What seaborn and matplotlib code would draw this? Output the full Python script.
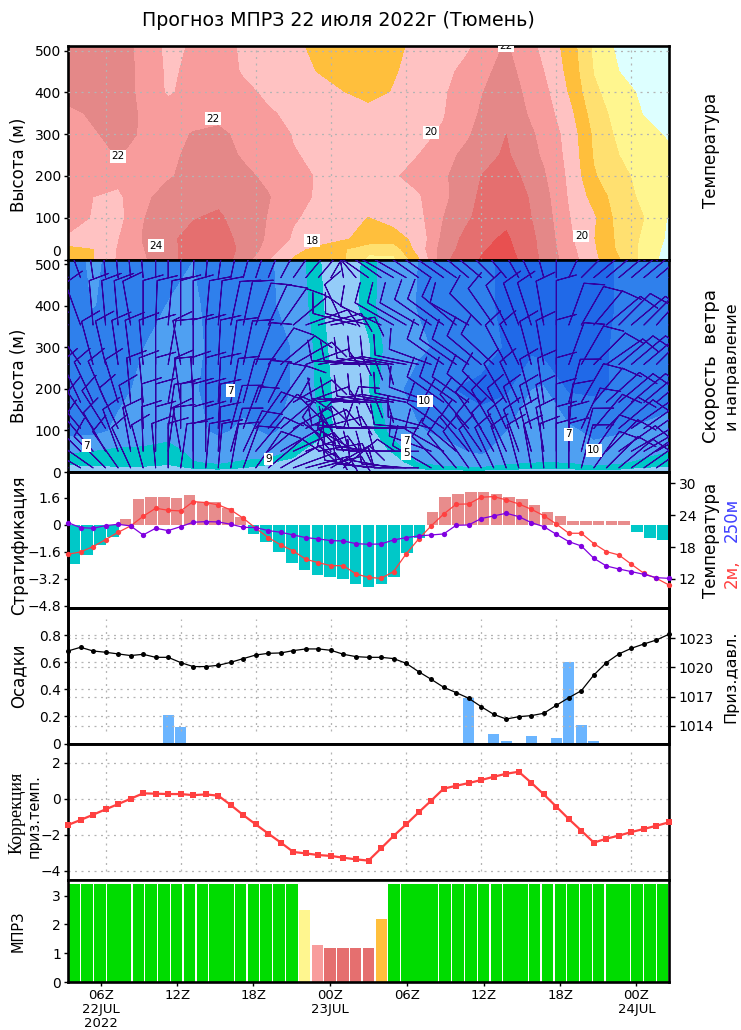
import numpy as np
import matplotlib
matplotlib.use("Agg")
import matplotlib.pyplot as plt
import seaborn as sns

sns.set_style("white")
plt.rcParams["font.family"] = ["DejaVu Sans"]
plt.rcParams["axes.unicode_minus"] = True
plt.rcParams["text.color"] = "black"
plt.rcParams["xtick.color"] = "black"
plt.rcParams["ytick.color"] = "black"

W, H = 741, 1030
hours = np.arange(49)
grid_hours = [3, 9, 15, 21, 27, 33, 39, 45]

# ---- temperature cross-section (deg C)
temp_cols = [0,2,4,6,8,10,12,14,16,18,20,22,24,26,28,30,32,33,35,37,38,40,42,44,46,48]
temp_heights = [0,25,50,100,150,200,250,300,350,400,450,511]
t_0   = [17,17.9,20.2,21.7,23.4,24.8,25.3,23,20.1,17.7,16.8,16.2,13.6,13.5,17.5,23.5,25.4,26.1,27,24.8,23.5,21,18.4,16.1,13.3,11]
t_25  = [17,17.9,20.1,21.9,23.5,24.7,25.2,23.5,21.2,18.6,17.3,16.2,14.5,14.8,18.8,23,25,25.8,26.6,24.5,23.4,20.7,18.2,15.6,13.4,11.3]
t_50  = [19.8,19.3,19.9,22.1,23.7,24.5,25,23.3,21.7,19.7,19,18.1,17.6,17,18.6,22.6,24.8,25.5,26.3,24.4,23.3,20.4,18,15.5,13.6,11.6]
t_100 = [20.6,19.9,19.3,21.9,23.2,23.9,24.3,23.1,21.9,20.2,19.4,18.7,17.9,18.7,19.4,22,23.8,24.6,25.5,24,23,20.1,18.2,15.2,14,11.8]
t_150 = [20.3,20,19.6,21.6,22.7,23.2,23.5,23,22.1,20.8,19.7,19.4,19.3,19.4,19.8,21.5,23.5,24.3,25.3,23.8,22.7,19.8,17.2,15,13.5,12.7]
t_200 = [20.5,20.7,20.6,20.4,21.8,22.6,23,22.4,21.6,20.7,19.8,19.6,19.5,19.8,20.6,21.7,23.2,24,25,23.2,22.2,19.6,16.2,14.5,13.4,12.6]
t_250 = [20.4,21.3,22.1,21.4,21.6,22.4,22.7,21.8,21,20.1,19.7,19.5,19.3,19.5,20,21.3,22.6,23.2,24.3,22.5,21.7,19.4,15.8,14,13,12.3]
t_300 = [20.6,21.8,22.6,21.8,21.4,22.1,22.4,21.5,20.8,19.9,19.5,19.3,19.1,19.2,19.6,20.2,21.8,22.8,24,22.2,21.5,19.2,15.6,13.5,12.5,11.8]
t_350 = [21.5,22.3,23,21.7,21.1,21.3,21.4,21,20.2,19.6,19.2,18.9,18.6,18.9,19.4,19.9,21.4,22.2,23.3,21.7,21,18.6,15,13.2,11.9,11.2]
t_400 = [22.8,22.5,22.8,21.6,19.7,20.8,21.2,20.5,19.6,19,18.6,18,17.3,18.1,19,19.8,21,21.9,23,21.4,20.6,17.8,14.4,12.8,11.6,11]
t_450 = [23,23,22.8,21.6,19.6,20.5,21,19.8,19.2,18.6,17.9,17.3,17,17.8,18.7,19.5,20.6,21.4,22.8,20.8,20,17.4,13.9,12,11,10.5]
t_500 = [23,23,23,21.3,19.5,20.2,21,19.6,19,18.3,17.6,17,16.7,17.5,18.5,19.3,19.8,20.8,22.2,20.4,19.5,17.1,13.6,11.5,11,10.5]
temp_levels = [8,12,14,16,18,20,22,24,26,28]
temp_colors = ["#DDFFFF","#FFF68F","#FFE070","#FFBF3C","#FFC2C2","#F89C9C","#E48888","#E56F6F","#E85050"]
temp_labels = [("22",3.97,247),("22",11.55,337),("24",7,33),("18",19.5,45),("20",29,304),("22",35,511),("20",41,56)]

# ---- wind speed cross-section (m/s)
wind_heights = [0,25,50,100,200,300,400,512]
w_0   = [4.5]*26
w_25  = [5.2,5.3,5.4,5.4,5.2,5.9,6.3,5.7,5.2,4.6,3.5,3.3,3.6,4.2,6.1,6.8,7.2,7.3,6.4,6.1,6,6.1,6.8,6.3,5.6,5.4]
w_50  = [6.2,5.9,5.6,5.5,5.2,6.4,6.8,7.2,7.2,5.6,3.8,3.5,4,5.2,6.7,7.4,8,8.2,7.2,6.6,6.5,6.6,7.3,7,6.6,6]
w_100 = [8.6,8.5,7.6,7.4,6.8,7.5,8.3,7.6,8.2,7.6,6,4.2,4.5,6.5,7.8,8.4,9.2,9.5,8,7.2,7.1,7.5,8.5,8.2,7.6,7]
w_200 = [9,8.9,8.4,7.6,7.2,7.8,8.6,8.8,8.6,7.9,5.6,4.4,4.9,7.4,8.8,9.8,10.2,10.3,10.3,8,7.7,10.2,10.3,9.8,9.4,9.2]
w_300 = [9,9,9,8,7.4,7.5,8.6,8.8,8.6,7.9,5.4,4.3,4.8,6.8,7.6,8.4,9,9.4,10.1,10.5,10.7,10.7,10.3,9.8,9.5,9.3]
w_400 = [8.8,7.9,8.6,8.6,7.9,7.8,8.4,8.6,8.4,7.1,5.2,4.2,5.5,7,8.1,8.8,9.2,9.6,10.3,10.7,10.8,10.8,10.4,9.9,9.5,9.3]
w_500 = [9,7.5,8.8,9,8.6,8,9,9,8.3,6.8,5.1,4,5.4,7,8,8.8,9.2,9.6,10.3,10.6,10.7,10.7,10.4,9.9,9.5,9.3]
wind_levels = [0,5,6,8,10,14]
wind_colors = ["#94CCF8","#00C8C8","#4FA0F2","#2F80EC","#2069E8"]
wind_labels = [("7",1.47,63),("9",16,31),("7",13,196),("10",28.5,171),("7",27,75),("5",27,45),("7",40,91),("10",42,52)]

# ---- wind barbs: direction the wind comes from (deg), one list per level
barb_heights = [10,50,105,168,259,354,468]
barb_speed = [10,10,10,10,10,10,10]
d_468 = [340,340,352,355,355,355,355,0,0,0,2,5,8,12,15,18,22,28,35,40,40,30,350,320,305,305,300,300,305,305,305,305,310,310,315,320,330,335,345,0,25,45,50,50,50,50,50,50,50]
d_354 = [335,340,355,355,355,350,0,2,5,0,0,5,5,12,12,20,25,35,50,70,75,80,335,285,285,295,300,300,300,305,306,310,300,315,325,333,340,342,350,0,20,30,40,50,45,50,45,42,42]
d_259 = [320,325,345,347,352,353,355,0,10,350,0,0,3,8,12,20,35,50,60,70,80,85,90,275,275,278,280,280,282,290,305,305,305,310,313,332,335,345,350,0,20,30,45,55,50,50,50,45,45]
d_168 = [325,335,335,337,343,355,355,0,10,352,357,0,3,10,15,20,27,35,60,70,80,85,90,275,275,278,280,280,282,290,305,305,305,310,315,330,335,345,352,0,15,30,40,48,50,50,50,50,50]
d_105 = [310,320,325,328,335,345,358,0,8,0,0,0,3,15,20,35,40,50,60,65,75,315,20,275,272,270,270,272,275,285,305,315,320,325,330,335,340,345,350,0,5,25,40,45,50,55,55,55,55]
d_50  = [305,315,320,330,340,350,358,0,8,350,0,0,3,15,25,40,50,60,65,70,80,320,330,300,280,272,270,270,270,290,300,310,320,325,330,335,340,345,350,0,0,15,35,45,55,60,60,60,60]
d_10  = [295,300,305,315,325,335,345,355,0,8,0,5,5,10,20,35,50,60,70,75,75,60,50,300,280,275,280,275,270,300,315,320,325,330,335,340,345,350,355,0,0,15,35,45,50,55,55,55,55]

# ---- stratification bars (47 bars)
strat = [-2.33,-1.78,-1.19,-.69,.36,1.52,1.68,1.68,1.62,1.78,1.38,1.34,.99,.49,-.53,-1.03,-1.62,-2.27,-2.69,-2.96,-3.1,-3.2,-3.52,-3.69,
         -3.5,-3.1,-1.68,-.8,.79,1.68,1.84,1.94,1.94,1.84,1.64,1.52,1.19,.79,.53,.26,.26,.26,.26,.26,-.4,-.8,-.9]
t2m = [16.64,17.08,18.08,19.4,20.77,21.97,23.78,25.29,24.91,24.79,26.54,26.36,25.92,24.98,23.41,21.53,19.77,18.39,17.26,15.69,15.07,14.5,14.5,12.94,12.31,
       12.12,13.38,16.7,19.5,21.97,24.2,26.04,26.1,27.36,27.48,26.86,26.1,25.1,23.9,22.34,20.59,20.59,18.64,17.14,16.51,14.76,13.06,12.12,10.87]
t250 = [22.59,21.65,21.53,22.03,22.28,21.97,20.27,21.53,21.09,21.84,22.66,22.78,22.72,22.28,21.71,21.65,21.09,20.77,20.27,19.77,19.52,19.21,19.14,18.64,18.52,
        18.58,19.33,19.77,20.08,20.27,20.46,22.09,22.15,23.35,23.85,24.35,23.72,22.59,21.84,20.4,19.02,18.2,15.88,14.44,13.88,13.38,12.87,12.25,12.12]

# ---- precipitation and surface pressure
precip = [0]*49
for _h, _v in zip([8,9,32,34,35,37,39,40,41,42], [.21,.12,.338,.07,.018,.057,.038,.6,.14,.018]):
    precip[_h] = _v
pressure = [1021.69,1022.07,1021.69,1021.56,1021.39,1021.22,1021.35,1021.04,1021.04,1020.5,1020.09,1020.09,1020.22,1020.53,1020.91,1021.28,1021.45,1021.49,1021.73,1021.9,1021.9,1021.76,1021.35,1021.11,1021.04,
            1021.04,1020.91,1020.43,1019.57,1018.79,1017.97,1017.42,1016.84,1015.98,1015.19,1014.71,1014.95,1015.06,1015.3,1016.12,1016.9,1017.62,1019.23,1020.5,1021.39,1021.97,1022.41,1022.82,1023.41]

# ---- temperature correction
correction = [-1.46,-1.18,-.89,-.59,-.30,0.0,.30,.28,.26,.26,.2,.24,.17,-.35,-.91,-1.43,-1.94,-2.44,-2.96,-3.04,-3.13,-3.18,-3.28,-3.37,-3.44,
              -2.76,-2.07,-1.43,-.76,-.11,.56,.72,.87,1.04,1.22,1.39,1.5,.89,.24,-.44,-1.13,-1.78,-2.44,-2.22,-2.05,-1.85,-1.68,-1.5,-1.31]

# ---- MPRZ index (47 bars)
mprz = [3.4]*18 + [2.5,1.28,1.18,1.18,1.18,1.18,2.2] + [3.4]*22
mprz_colors = ["#00DC00"]*18 + ["#FFF68F","#F89C9C","#E56F6F","#E56F6F","#E56F6F","#E56F6F","#FFBF3C"] + ["#00DC00"]*22
mprz_joined = [3,11,26,27,34,42]

tick_pos = [2.61,8.74,14.8,20.9,27.05,33.2,39.33,45.4]
tick_txt = ["06Z\n22JUL\n2022","12Z","18Z","00Z\n23JUL","06Z","12Z","18Z","00Z\n24JUL"]

# ---- layout (pixels)
tops = [46,259.5,472,608,743.5,879.5]
bots = [259.5,472,608,743.5,879.5,982]
L, R = 68, 669
fig = plt.figure(figsize=(W/100, H/100), dpi=100, facecolor="white")
axes = [fig.add_axes([L/W, 1-b/H, (R-L)/W, (b-t)/H]) for t, b in zip(tops, bots)]

GRID = dict(color="#B4B4B4", lw=0.9, ls=(0, (1.6, 3.6)))
TS = 10
bar_step = 48/47
bar_x = (np.arange(47)+0.5)*bar_step

def style(ax):
    ax.set_xlim(0, 48)
    ax.set_xticks([])
    ax.set_xlabel(""); ax.set_ylabel("")
    ax.tick_params(axis="y", length=3, width=1, pad=2, labelsize=TS, color="black", left=True)
    for s in ax.spines.values():
        s.set_linewidth(1.9); s.set_color("black"); s.set_visible(True)

def style_right(ax):
    ax.set_xlabel(""); ax.set_ylabel("")
    ax.yaxis.set_label_position("right")
    ax.yaxis.tick_right()
    ax.grid(False)
    ax.tick_params(axis="y", length=4, width=1, pad=3, labelsize=TS, color="black", right=True, left=False)
    for s in ax.spines.values():
        s.set_linewidth(1.9); s.set_color("black"); s.set_visible(True)

def labels(ax, items):
    for s, x, y in items:
        ax.text(x, y, s, fontsize=7.5, ha="center", va="center", color="black", clip_on=True, zorder=6,
                bbox=dict(fc="white", ec="none", pad=1.0))

# panel 1: temperature
ax = axes[0]
ax.contourf(temp_cols, temp_heights, np.array([t_0,t_25,t_50,t_100,t_150,t_200,t_250,t_300,t_350,t_400,t_450,t_500]),
            levels=temp_levels, colors=temp_colors, zorder=1)
ax.set_ylim(3, 511)
style(ax)
ax.set_yticks([0,100,200,300,400,500])
fig.canvas.draw()
ax.get_yticklabels()[0].set_va("bottom")
for g in grid_hours:
    ax.axvline(g, zorder=3, **GRID)
for y in [100,200,300,400,500]:
    ax.axhline(y, zorder=3, **GRID)
labels(ax, temp_labels)

# panel 2: wind
ax = axes[1]
ax.contourf(temp_cols, wind_heights, np.array([w_0,w_25,w_50,w_100,w_200,w_300,w_400,w_500]),
            levels=wind_levels, colors=wind_colors, zorder=1)
dirs = np.radians(np.array([d_10,d_50,d_105,d_168,d_259,d_354,d_468], dtype=float))
XX, YY = np.meshgrid(hours, barb_heights)
spd = np.array(barb_speed, dtype=float)[:, None]
ax.barbs(XX, YY, -spd*np.sin(dirs), -spd*np.cos(dirs), length=8.0, pivot="tip", color="#3300A0", linewidth=0.75,
         sizes=dict(emptybarb=0, height=0.45, spacing=0.12), zorder=4)
ax.set_ylim(2.4, 511.6)
style(ax)
ax.set_yticks([0,100,200,300,400,500])
labels(ax, wind_labels)

# panel 3: stratification and temperature
ax = axes[2]
sns.barplot(x=bar_x, y=strat, native_scale=True, width=0.9, color="#00C8C8", saturation=1, errorbar=None, ax=ax)
for p, v in zip(ax.patches, strat):
    p.set_facecolor("#E88C8C" if v > 0 else "#00C8C8"); p.set_linewidth(0)
ax.set_ylim(-4.92, 3.14)
style(ax)
ax.set_yticks([-4.8,-3.2,-1.6,0,1.6]); ax.set_yticklabels(["−4.8","−3.2","−1.6","0","1.6"])
axr = ax.twinx()
sns.lineplot(x=hours, y=t2m, ax=axr, color="#FF4040", lw=0.9, marker="o", markersize=3.8, markeredgewidth=0, clip_on=False, zorder=5)
sns.lineplot(x=hours, y=t250, ax=axr, color="#8000E0", lw=0.9, marker="o", markersize=3.8, markeredgewidth=0, clip_on=False, zorder=6)
axr.set_ylim(6.55, 32.1)
axr.set_xlim(0, 48)
style_right(axr)
axr.set_yticks([12,18,24,30])

# panel 4: precipitation and pressure
ax = axes[3]
sns.barplot(x=hours, y=precip, native_scale=True, width=0.88, color="#6BB5FF", saturation=1, errorbar=None, ax=ax)
for p in ax.patches:
    p.set_linewidth(0)
ax.set_ylim(0, 1.0)
style(ax)
ax.set_yticks([0,.2,.4,.6,.8]); ax.set_yticklabels(["0","0.2","0.4","0.6","0.8"])
for g in grid_hours:
    ax.axvline(g, ymin=0.09, ymax=0.92, zorder=3, **GRID)
for y in [.2,.4,.6,.8]:
    ax.axhline(y, zorder=3, **GRID)
axr = ax.twinx()
for y in [1014,1017,1020,1023]:
    axr.axhline(y, zorder=1, **GRID)
sns.lineplot(x=hours, y=pressure, ax=axr, color="black", lw=0.9, marker="o", markersize=3.6, markeredgewidth=0, clip_on=False, zorder=5)
axr.set_ylim(1012.2, 1026.1)
axr.set_xlim(0, 48)
style_right(axr)
axr.set_yticks([1014,1017,1020,1023])

# panel 5: correction
ax = axes[4]
for g in grid_hours:
    ax.axvline(g, ymin=0.06, ymax=0.94, zorder=1, **GRID)
for y in [-4,-2,0,2]:
    ax.axhline(y, zorder=1, **GRID)
sns.lineplot(x=hours, y=correction, ax=ax, color="#FF4040", lw=1.6, marker="s", markersize=4.4, markeredgewidth=0, clip_on=False, zorder=5)
ax.set_ylim(-4.49, 3.07)
style(ax)
ax.set_yticks([-4,-2,0,2]); ax.set_yticklabels(["−4","−2","0","2"])

# panel 6: MPRZ
ax = axes[5]
sns.barplot(x=bar_x, y=mprz, native_scale=True, width=0.9, color="#00DC00", saturation=1, errorbar=None, ax=ax)
for k, (p, c) in enumerate(zip(ax.patches, mprz_colors)):
    p.set_facecolor(c); p.set_linewidth(0)
    if k in mprz_joined:
        p.set_width(bar_step*1.02)
ax.set_ylim(0, 3.56)
style(ax)
ax.set_yticks([0,1,2,3])
ax.set_xticks(tick_pos); ax.set_xticklabels(tick_txt, fontsize=9.5, linespacing=1.1)
ax.tick_params(axis="x", length=3, width=1, pad=2, bottom=True)

# texts
def ftext(px, py, s, **kw):
    kw.setdefault("ha", "center"); kw.setdefault("va", "center")
    fig.text(px/W, 1-py/H, s, **kw)

ftext(338, 20, "Прогноз МПРЗ 22 июля 2022г (Тюмень)", fontsize=13.7)
V = dict(rotation=90, fontsize=12)
ftext(19, 165, "Высота (м)", **V)
ftext(19, 376, "Высота (м)", **V)
ftext(19, 545, "Стратификация", **V)
ftext(18, 676, "Осадки", **V)
ftext(17, 813, "Коррекция", rotation=90, fontsize=13, family="Liberation Serif")
ftext(34, 816, "приз.темп.", rotation=90, fontsize=10.5)
ftext(18, 931, "МПРЗ", rotation=90, fontsize=10.5)
ftext(711, 150, "Температура", **V)
ftext(711, 366, "Скорость  ветра", rotation=90, fontsize=13)
ftext(732, 367, "и направление", rotation=90, fontsize=11.5)
ftext(711, 540, "Температура", **V)
ftext(732, 574, "2м,", rotation=90, fontsize=12, color="#FF4040")
ftext(732, 520, "250м", rotation=90, fontsize=12, color="#4040FF")
ftext(731, 677, "Приз.давл.", rotation=90, fontsize=11.5)

fig.savefig("out.png", dpi=100, facecolor="white")
